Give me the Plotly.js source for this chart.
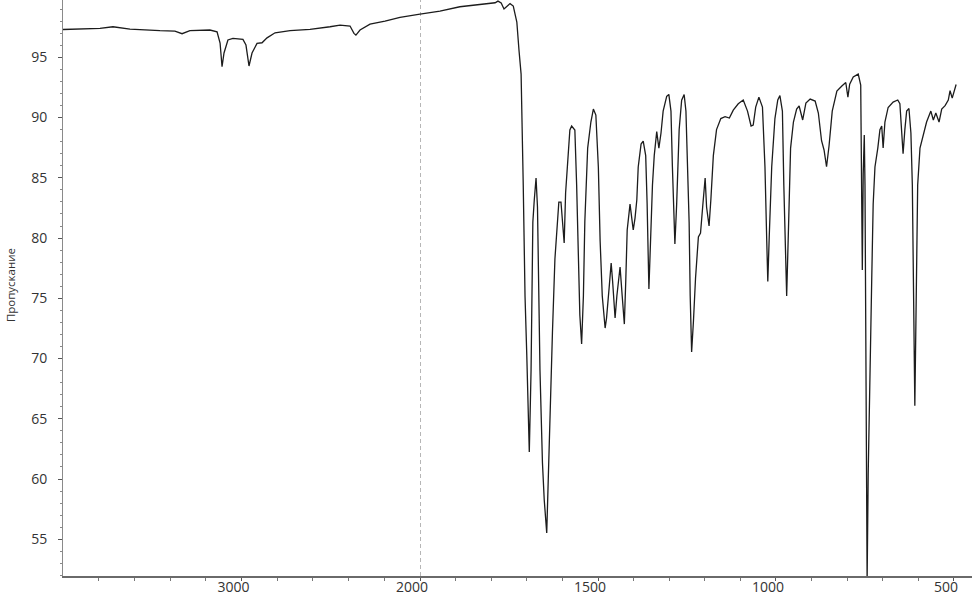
<!DOCTYPE html>
<html>
<head>
<meta charset="utf-8">
<script src="https://cdn.plot.ly/plotly-3.0.1.min.js"></script>
<style>html,body{margin:0;padding:0;background:#fff;}#chart{width:972px;height:595px;}</style>
</head>
<body>
<div id="chart"></div>
<script>
// Wavenumber (cm-1) and transmittance (%)
const wavenumber = [
4000,3793,3720,3625,3457,3373,3333,3289,3177,3137,3120,3109,3098,3076,3048,2992,2975,2958,2941,2913,2885,2857,2812,2728,2616,2560,2504,2448,2392,2370,2359,2336,2280,2196,2112,2000,
1944,1888,1831,1789,1781,1772,1764,1756,1747,1738,1728,1722,1716,1710,1705,1700,1696,1693,1688,1683,1679,1674,1670,1668,1663,1656,1651,1644,1640,1635,1628,1621,1616,1610,1604,1599,1595,1591,1585,1579,1574,1565,1560,1555,1551,1546,1541,1537,1529,1520,1513,1506,1499,1494,1488,1480,1476,1469,1463,1459,1452,1447,1438,1432,1426,1422,1418,1410,1401,1396,1391,1387,1382,1379,1373,1366,1362,1357,1352,1347,1342,1335,1329,1323,1317,1307,1301,1295,1291,1287,1284,1279,1272,1265,1258,1253,1248,1244,1241,1237,1232,1226,1218,1212,1206,1199,1195,1188,1183,1176,1167,1155,1143,1131,1120,1106,1092,1080,1070,1064,1057,1048,1038,1031,1026,1023,1019,1012,1003,995,989,982,978,973,970,965,959,951,942,935,925,916,904,890,881,872,865,858,851,842,829,815,804,798,793,783,769,762,759,757.5,755,752,750,748,746.6,744,741,736,731,727,722,714,708,703,699,694,685,671,658,652,647,643,638,633,626.5,621,617,613,610,606,602,595.5,586,577,565,558,551,542,534.5,525,516,511,505,499,494
];
const transmittance = [
97.31,97.41,97.54,97.35,97.21,97.18,96.96,97.21,97.27,97.12,96.19,94.22,95.36,96.44,96.58,96.49,96.02,94.28,95.36,96.16,96.21,96.62,97.04,97.21,97.32,97.41,97.54,97.68,97.60,96.99,96.85,97.27,97.76,98.01,98.32,98.59,
98.84,99.20,99.40,99.53,99.67,99.51,99.01,99.26,99.46,99.26,97.93,95.61,93.61,84.40,75.19,70.24,64.40,62.24,69.05,81.33,83.16,84.98,82.58,78.26,69.05,61.33,58.26,55.52,59.84,65.98,72.12,78.26,80.09,82.99,82.99,80.67,79.59,83.74,86.81,88.97,89.30,88.97,84.40,78.26,73.61,71.21,75.19,81.33,87.47,89.63,90.71,90.21,85.90,79.76,75.19,72.53,73.36,75.77,77.93,76.43,73.36,75.19,77.60,75.19,72.86,76.43,80.67,82.82,80.67,81.66,83.16,85.90,86.90,87.80,88.05,86.84,82.85,75.77,80.09,84.40,86.84,88.84,87.47,88.72,90.54,91.76,91.92,90.54,85.92,81.33,79.50,82.82,89.00,91.45,91.92,90.54,85.92,81.33,75.19,70.54,73.03,76.68,80.09,80.42,82.58,84.98,82.58,81.00,83.16,86.84,89.00,89.92,90.07,89.96,90.62,91.15,91.46,90.54,89.30,89.38,90.87,91.70,90.87,85.92,79.78,76.39,80.09,85.92,89.92,91.46,91.82,90.54,84.40,76.68,75.19,80.70,87.47,89.63,90.71,90.96,89.80,91.21,91.54,91.37,90.38,88.08,87.31,85.92,87.64,90.54,92.20,92.62,92.91,91.70,92.78,93.37,93.61,92.70,84.40,77.35,85.32,88.55,84.40,70.54,60.75,51.5,60.42,70.54,76.68,82.82,85.90,87.47,89.00,89.30,87.47,89.63,90.84,91.29,91.46,91.15,89.00,87.00,89.00,90.54,90.75,88.72,84.40,75.19,66.09,75.19,84.40,87.47,88.72,89.63,90.54,89.80,90.38,89.63,90.71,90.99,91.46,92.23,91.62,92.37,92.75
];
const leftTicks = [3000];
const rightTicks = [2000, 1500, 1000, 500];
const yTicks = [55, 60, 65, 70, 75, 80, 85, 90, 95];
const yTitle = 'Пропускание';

const hiX = [], hiY = [], loX = [], loY = [];
for (let i = 0; i < wavenumber.length; i++) {
  if (wavenumber[i] >= 2000) { hiX.push(wavenumber[i]); hiY.push(transmittance[i]); }
  if (wavenumber[i] <= 2000) { loX.push(wavenumber[i]); loY.push(transmittance[i]); }
}

const lineStyle = {color: '#1c1c1c', width: 1.3};
const traces = [
  {x: hiX, y: hiY, xaxis: 'x', yaxis: 'y', mode: 'lines', line: lineStyle, hoverinfo: 'skip'},
  {x: loX, y: loY, xaxis: 'x2', yaxis: 'y', mode: 'lines', line: lineStyle, hoverinfo: 'skip'}
];

const split = (420 - 63) / 909;
const axisFont = {family: 'Open Sans, sans-serif', size: 14, color: '#333'};
const common = {
  showgrid: false, zeroline: false, showline: true, linecolor: '#6a6a6a', linewidth: 1.5,
  ticks: 'outside', ticklen: 3, tickcolor: '#555', tickfont: axisFont, anchor: 'y',
  ticklabelshift: 8, ticklabelstandoff: -5, fixedrange: true
};
const layout = {
  width: 972, height: 595,
  margin: {l: 63, r: 0, t: 0, b: 19},
  paper_bgcolor: '#fff', plot_bgcolor: '#fff',
  showlegend: false,
  xaxis: Object.assign({}, common, {
    domain: [0, split], range: [4000, 2000], tickmode: 'array', tickvals: leftTicks,
    minor: {tickvals: [3800, 3600, 3400, 3200, 2800, 2600, 2400, 2200], ticklen: 3, tickcolor: '#777', ticks: 'outside'}
  }),
  xaxis2: Object.assign({}, common, {
    domain: [split, 1], range: [2000, 449.4], tickmode: 'array', tickvals: rightTicks,
    minor: {dtick: 100, ticklen: 3, tickcolor: '#777', ticks: 'outside'}
  }),
  yaxis: {
    domain: [0, 1], range: [51.95, 99.76], showgrid: false, zeroline: false, showline: true,
    linecolor: '#8a8a8a', linewidth: 1, ticks: 'outside', ticklen: 4, tickcolor: '#555',
    tickmode: 'array', tickvals: yTicks, tickfont: axisFont, ticklabelstandoff: 8, anchor: 'x',
    minor: {dtick: 1, ticklen: 2, tickcolor: '#888', ticks: 'outside'}, fixedrange: true
  },
  shapes: [{
    type: 'line', xref: 'x2', yref: 'paper', x0: 2000, x1: 2000, y0: 0, y1: 1,
    line: {color: '#6e6e6e', width: 1, dash: '4px,3px'}, layer: 'below'
  }],
  annotations: [{
    text: yTitle, xref: 'paper', yref: 'paper', x: (10 - 63) / 909, y: 0.505,
    xanchor: 'center', yanchor: 'middle', textangle: -90, showarrow: false,
    font: {family: 'Open Sans, sans-serif', size: 11.5, color: '#333'}
  }]
};
Plotly.newPlot('chart', traces, layout, {displayModeBar: false, staticPlot: true});
</script>
</body>
</html>
